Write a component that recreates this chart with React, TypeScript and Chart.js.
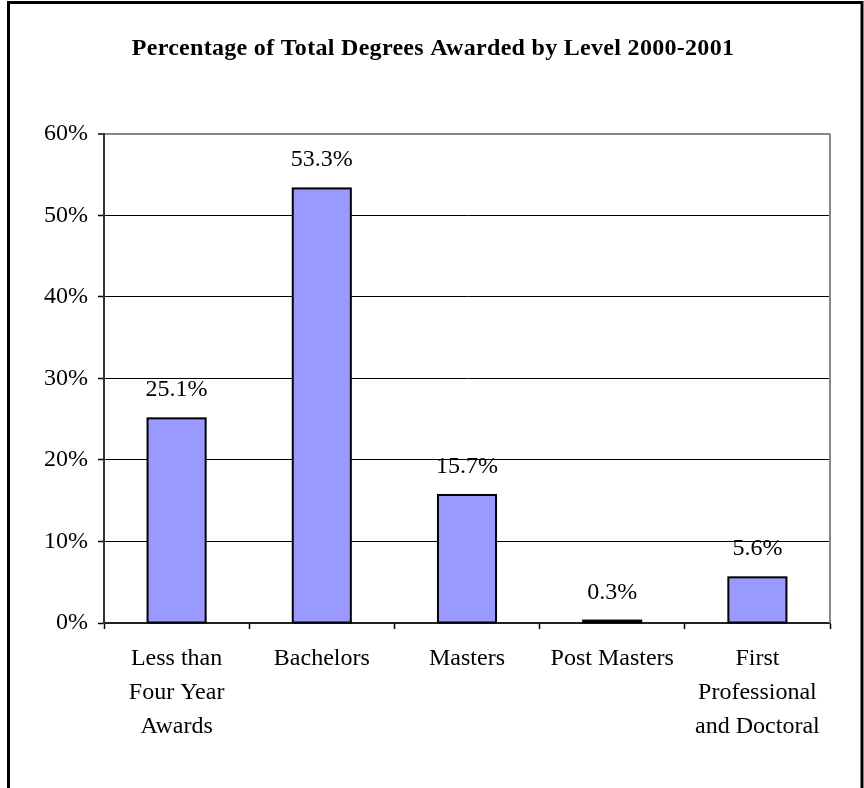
import React, { useEffect, useRef } from "react";
import { Chart, registerables } from "chart.js";

Chart.register(...registerables);

const categories: string[][] = [
  ["Less than", "Four Year", "Awards"],
  ["Bachelors"],
  ["Masters"],
  ["Post Masters"],
  ["First", "Professional", "and Doctoral"],
];
const values: number[] = [25.1, 53.3, 15.7, 0.3, 5.6];
const yTicks: number[] = [0, 10, 20, 30, 40, 50, 60];
const titleText = "Percentage of Total Degrees Awarded by Level 2000-2001";

const FONT = "'Liberation Serif', 'Times New Roman', serif";

const framePlugin = {
  id: "frame",
  beforeDraw(chart: any) {
    const { ctx, width, height } = chart;
    ctx.save();
    ctx.fillStyle = "#fff";
    ctx.fillRect(0, 0, width, height);
    ctx.strokeStyle = "#000";
    ctx.lineWidth = 3;
    ctx.beginPath();
    ctx.moveTo(8.5, height + 5);
    ctx.lineTo(8.5, 2.5);
    ctx.lineTo(862, 2.5);
    ctx.lineTo(862, height + 5);
    ctx.stroke();
    ctx.restore();
  },
  afterDraw(chart: any) {
    const { ctx, chartArea } = chart;
    ctx.save();
    ctx.strokeStyle = "#888";
    ctx.lineWidth = 2;
    ctx.beginPath();
    ctx.moveTo(chartArea.right, chartArea.top);
    ctx.lineTo(chartArea.right, chartArea.bottom);
    ctx.stroke();
    ctx.font = `bold 24px ${FONT}`;
    ctx.fillStyle = "#000";
    ctx.textAlign = "center";
    ctx.textBaseline = "middle";
    try {
      (ctx as any).letterSpacing = "0.3px";
    } catch (e) {}
    ctx.fillText(titleText, 433, 48.4);
    ctx.restore();
  },
};

const labelPlugin = {
  id: "barLabels",
  afterDatasetsDraw(chart: any) {
    const { ctx } = chart;
    const meta = chart.getDatasetMeta(0);
    ctx.save();
    // outline each bar centred on its edges (Excel style)
    ctx.strokeStyle = "#000";
    ctx.lineWidth = 2;
    meta.data.forEach((bar: any) => {
      ctx.strokeRect(bar.x - bar.width / 2, bar.y, bar.width, bar.base - bar.y);
    });
    ctx.font = `24px ${FONT}`;
    ctx.fillStyle = "#000";
    ctx.textAlign = "center";
    ctx.textBaseline = "alphabetic";
    meta.data.forEach((bar: any, i: number) => {
      ctx.fillText(values[i].toFixed(1) + "%", bar.x, bar.y - 22);
    });
    ctx.restore();
  },
};

export default function App() {
  const ref = useRef<HTMLCanvasElement | null>(null);
  useEffect(() => {
    if (!ref.current) return;
    const chart = new Chart(ref.current, {
      type: "bar",
      data: {
        labels: categories,
        datasets: [
          {
            data: values,
            backgroundColor: "#9999FF",
            borderWidth: 0,
            categoryPercentage: 1,
            barPercentage: 0.4,
          },
        ],
      },
      options: {
        animation: false,
        responsive: false,
        layout: { padding: { left: 0, right: 34, top: 0, bottom: 0 } },
        plugins: {
          legend: { display: false },
          tooltip: { enabled: false },
          title: {
            display: true,
            text: titleText,
            color: "rgba(0,0,0,0)",
            font: { family: FONT, size: 24, weight: "bold", lineHeight: 1.2 },
            padding: { top: 34, bottom: 71 },
          },
        },
        scales: {
          x: {
            offset: true,
            grid: {
              display: true,
              drawOnChartArea: false,
              tickLength: 6,
              color: "#000",
              tickWidth: 1.5,
              offset: true,
            },
            border: { display: true, color: "#222", width: 2 },
            ticks: {
              color: "#000",
              font: { family: FONT, size: 24, lineHeight: 34 / 24 },
              padding: 13,
              autoSkip: false,
              maxRotation: 0,
              minRotation: 0,
            },
            afterFit: (s: any) => {
              s.height = 165;
            },
          },
          y: {
            min: 0,
            max: 60,
            afterBuildTicks: (s: any) => {
              s.ticks = yTicks.map((v) => ({ value: v }));
            },
            grid: {
              color: (c: any) => (c.tick && c.tick.value === 60 ? "#888" : "#000"),
              lineWidth: (c: any) => (c.tick && c.tick.value === 60 ? 2 : 1),
              tickColor: "#000",
              tickWidth: 1.5,
              tickLength: 6,
            },
            border: { display: true, color: "#333", width: 2 },
            ticks: {
              color: "#000",
              font: { family: FONT, size: 24 },
              padding: 10,
              callback: (v: any) => v + "%",
            },
            afterFit: (s: any) => {
              s.width = 104;
            },
          },
        },
      },
      plugins: [framePlugin, labelPlugin],
    });
    return () => chart.destroy();
  }, []);
  return (
    <div style={{ position: "absolute", left: 0, top: 0, width: 864, height: 788 }}>
      <canvas ref={ref} width={864} height={788} style={{ display: "block" }} />
    </div>
  );
}
